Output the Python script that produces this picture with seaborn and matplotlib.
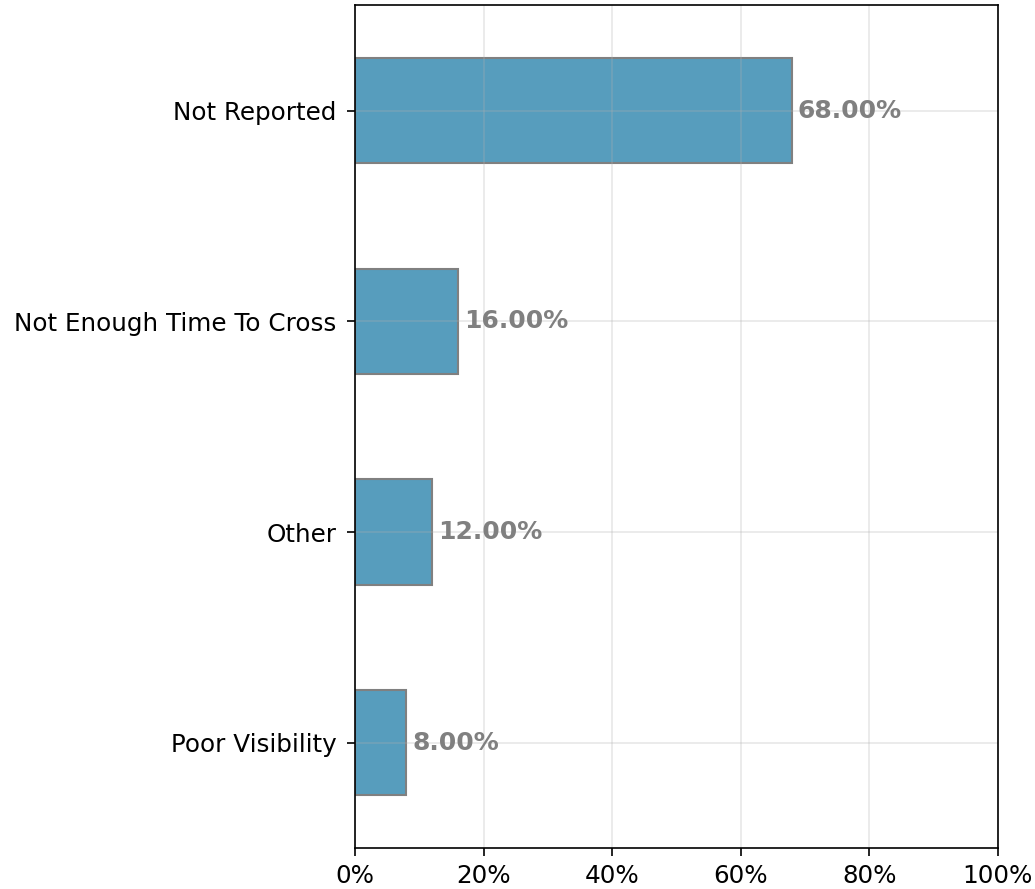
import pandas as pd
import matplotlib
matplotlib.use("Agg")
import matplotlib.pyplot as plt
import matplotlib.ticker as mtick
import seaborn as sns

reasons = ["Not Reported", "Not Enough Time To Cross", "Other", "Poor Visibility"]
shares = [68.0, 16.0, 12.0, 8.0]

df = pd.DataFrame({"reason": reasons, "share": shares})

fig, ax = plt.subplots(figsize=(6.9, 5.9267), dpi=150)
sns.barplot(data=df, y="reason", x="share", orient="h", width=0.5,
            color="#579dbd", saturation=1, edgecolor="grey", linewidth=1, ax=ax)

# value labels next to each bar
for i, v in enumerate(shares):
    ax.text(v + 0.9, i, f"{v:.2f}%", va="center", ha="left",
            fontsize=12, fontweight="bold", color="grey")

ax.set_xlim(0, 100)
ax.set_ylim(3.5, -0.5)
ax.xaxis.set_major_formatter(mtick.PercentFormatter(decimals=0))
ax.set_xlabel("")
ax.set_ylabel("")
ax.tick_params(labelsize=11.8, length=4)
ax.tick_params(axis="y", pad=5)
ax.grid(True, alpha=0.3)

plt.subplots_adjust(left=0.343, right=0.964, top=0.994, bottom=0.046)
plt.savefig("out.png")
